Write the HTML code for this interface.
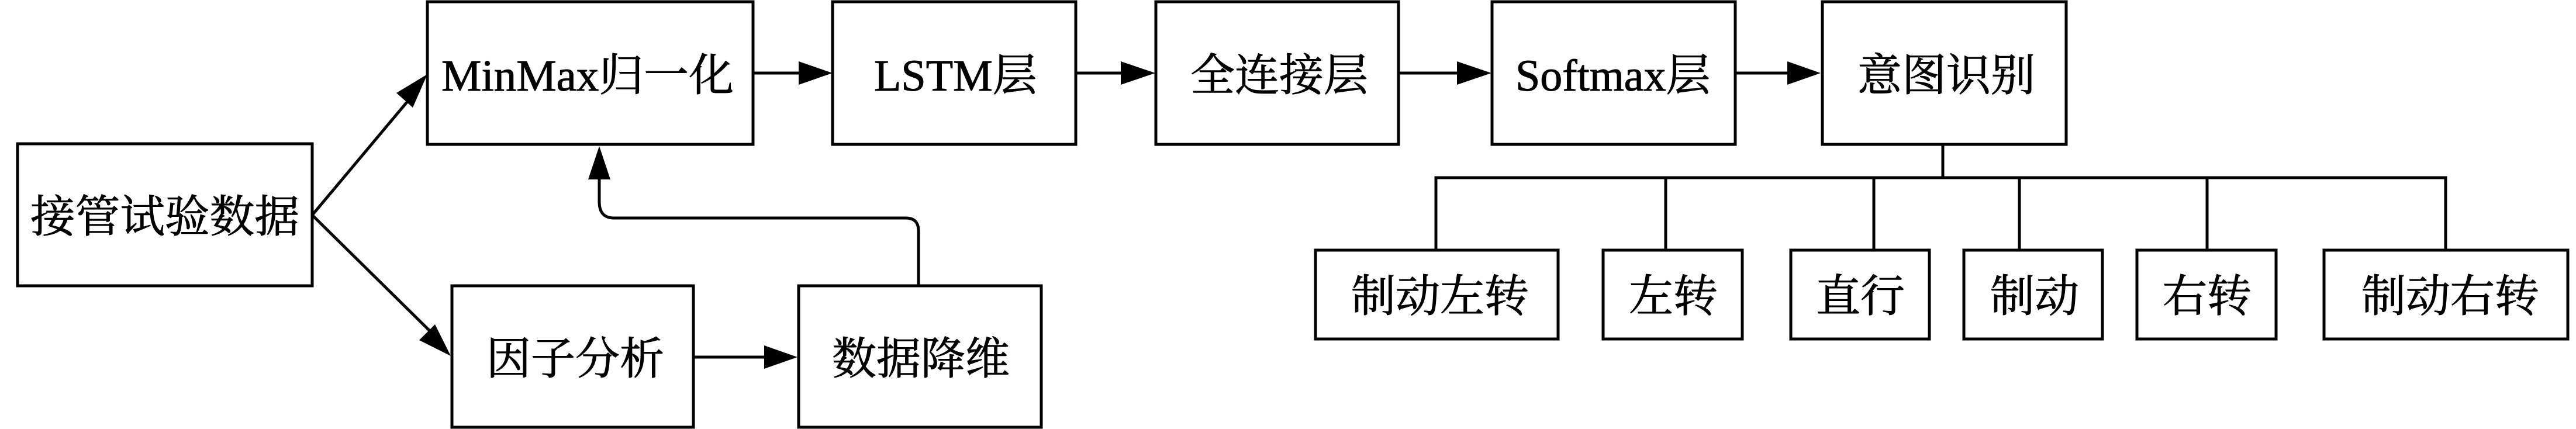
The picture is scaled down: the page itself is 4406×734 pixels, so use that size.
<!DOCTYPE html>
<html><head><meta charset="utf-8"><style>
html,body{margin:0;padding:0;background:#fff;width:4406px;height:734px;overflow:hidden}
svg{display:block}
text{font-family:"Liberation Serif","Noto Serif CJK SC",serif;font-size:76px;fill:#000;stroke:#000;stroke-width:1}
.b{fill:#fff;stroke:#000;stroke-width:5}
.l{fill:none;stroke:#000;stroke-width:5}
</style></head><body>
<svg width="4406" height="734" viewBox="0 0 4406 734" xmlns="http://www.w3.org/2000/svg">
<g class="boxes">
<rect class="b" x="30" y="246" width="504" height="243"/>
<rect class="b" x="731" y="3" width="557" height="244"/>
<rect class="b" x="773" y="489" width="413" height="242"/>
<rect class="b" x="1366" y="489" width="415" height="242"/>
<rect class="b" x="1424" y="3" width="416" height="244"/>
<rect class="b" x="1977" y="3" width="415" height="244"/>
<rect class="b" x="2552" y="3" width="416" height="244"/>
<rect class="b" x="3117" y="3" width="417" height="244"/>
<rect class="b" x="2250" y="428" width="415" height="152"/>
<rect class="b" x="2742" y="428" width="238" height="152"/>
<rect class="b" x="3063" y="428" width="237" height="152"/>
<rect class="b" x="3359" y="428" width="237" height="152"/>
<rect class="b" x="3655" y="428" width="238" height="152"/>
<rect class="b" x="3975" y="428" width="417" height="152"/>
</g>
<g class="lines">
<path class="l" d="M534 368L700 170"/>
<path class="l" d="M534 368L735 566"/>
<path class="l" d="M1288 125H1370"/>
<path class="l" d="M1840 125H1920"/>
<path class="l" d="M2392 125H2495"/>
<path class="l" d="M2968 125H3060"/>
<path class="l" d="M1186 611H1310"/>
<path class="l" d="M1571 489V395Q1571 373 1549 373H1050Q1025 373 1025 345V300"/>
<path class="l" d="M3323 247V304"/>
<path class="l" d="M2456 428V304H4183V428"/>
<path class="l" d="M2849 304V428M3205 304V428M3454 304V428M3775 304V428"/>
</g>
<g class="heads">
<polygon points="731,127 678,159 706,184"/>
<polygon points="771,609 744,555 717,582"/>
<polygon points="1424,125 1366,105 1366,145"/>
<polygon points="1976,125 1917,105 1917,145"/>
<polygon points="2551,125 2492,105 2492,145"/>
<polygon points="3114,125 3057,105 3057,145"/>
<polygon points="1364,611 1307,591 1307,631"/>
<polygon points="1025,250 1006,307 1044,307"/>
</g>
<g class="labels">
<text x="52" y="397" textLength="460" lengthAdjust="spacingAndGlyphs">接管试验数据</text>
<text x="755" y="155" textLength="500" lengthAdjust="spacingAndGlyphs">MinMax归一化</text>
<text x="1495" y="155">LSTM层</text>
<text x="2036" y="155">全连接层</text>
<text x="2592" y="155">Softmax层</text>
<text x="3177" y="155">意图识别</text>
<text x="832" y="640">因子分析</text>
<text x="1423" y="640">数据降维</text>
<text x="2311" y="533">制动左转</text>
<text x="2786" y="533">左转</text>
<text x="3106" y="533">直行</text>
<text x="3404" y="533">制动</text>
<text x="3699" y="533">右转</text>
<text x="4039" y="533">制动右转</text>
</g>
</svg>
</body></html>
